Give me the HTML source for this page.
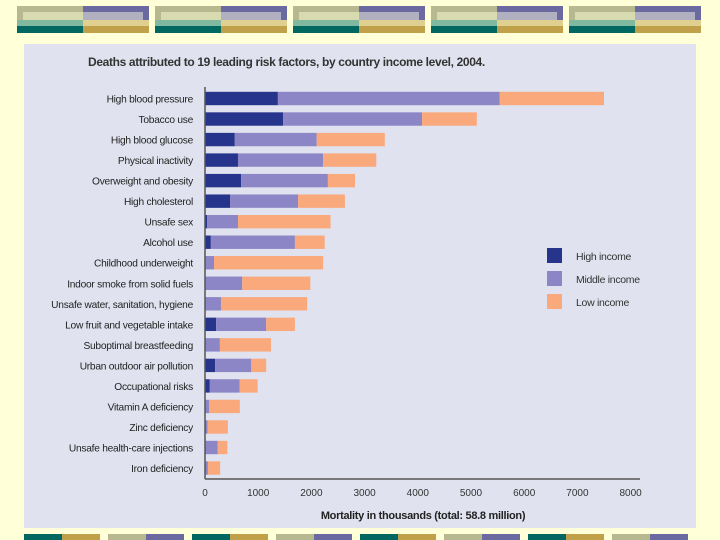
<!DOCTYPE html>
<html><head><meta charset="utf-8"><style>
body{margin:0;width:720px;height:540px;background:#ffffd8;overflow:hidden;font-family:"Liberation Sans",sans-serif}
svg{display:block}
</style></head><body>
<svg width="720" height="540">
<g id="deco"></g>
<rect x="24" y="44" width="672" height="484" fill="#e0e3ef"/>
<text x="88" y="66" font-size="12" font-weight="bold" letter-spacing="-0.35" fill="#333">Deaths attributed to 19 leading risk factors, by country income level, 2004.</text>
<g id="bars"></g>
<g id="labels"></g>
<g id="ticks"></g>
<line x1="205" y1="87" x2="205" y2="479" stroke="#555" stroke-width="1.5"/>
<line x1="205" y1="479" x2="640" y2="479" stroke="#555" stroke-width="1.5"/>
<text x="423" y="519" font-size="11" font-weight="bold" letter-spacing="-0.3" text-anchor="middle" fill="#222">Mortality in thousands (total: 58.8 million)</text>
<g>
<rect x="547" y="248" width="15" height="15" fill="#27348b"/>
<text x="576" y="260" font-size="10.5" letter-spacing="-0.3" fill="#333">High income</text>
<rect x="547" y="271" width="15" height="15" fill="#8c86c6"/>
<text x="576" y="283" font-size="10.5" letter-spacing="-0.3" fill="#333">Middle income</text>
<rect x="547" y="294" width="15" height="15" fill="#f9a97c"/>
<text x="576" y="306" font-size="10.5" letter-spacing="-0.3" fill="#333">Low income</text>
</g>
</svg>
<script>
const categories=["High blood pressure","Tobacco use","High blood glucose","Physical inactivity","Overweight and obesity","High cholesterol","Unsafe sex","Alcohol use","Childhood underweight","Indoor smoke from solid fuels","Unsafe water, sanitation, hygiene","Low fruit and vegetable intake","Suboptimal breastfeeding","Urban outdoor air pollution","Occupational risks","Vitamin A deficiency","Zinc deficiency","Unsafe health-care injections","Iron deficiency"];
const highIncome=[1370,1470,560,620,680,470,40,110,0,0,0,210,0,190,90,0,0,0,0];
const middleIncome=[4170,2610,1540,1600,1630,1280,580,1580,170,700,300,940,280,680,560,75,50,240,55];
const lowIncome=[1960,1030,1280,1000,510,880,1740,560,2050,1280,1620,540,960,280,340,580,380,180,230];
const tickValues=[0,1000,2000,3000,4000,5000,6000,7000,8000];
const NS="http://www.w3.org/2000/svg";
const x=v=>205+v*0.0532;
const rowY=i=>98.5+i*20.53;
const bars=document.getElementById('bars'),labels=document.getElementById('labels'),ticks=document.getElementById('ticks');
function mk(tag,attrs,parent){const e=document.createElementNS(NS,tag);for(const k in attrs)e.setAttribute(k,attrs[k]);parent.appendChild(e);return e;}
const series=[[highIncome,"#27348b","high"],[middleIncome,"#8c86c6","middle"],[lowIncome,"#f9a97c","low"]];
categories.forEach((c,i)=>{
  let acc=0;
  series.forEach(([arr,col,nm])=>{
    const v=arr[i];
    if(v>0){
      const r=mk('rect',{x:x(acc),y:rowY(i)-6.7,width:x(acc+v)-x(acc),height:13.4,fill:col},bars);
      
      
    }
    acc+=v;
  });
  const t=mk('text',{x:193,y:rowY(i)+4,'font-size':10.2,'letter-spacing':-0.25,'text-anchor':'end',fill:'#222'},labels);
  t.textContent=c;
  
  
});
tickValues.forEach(v=>{
  const t=mk('text',{x:x(v),y:496,'font-size':10,'text-anchor':'middle',fill:'#333'},ticks);
  t.textContent=v;
  
  
});
const deco=document.getElementById('deco');
function block(bx){
  const w=132,half=66;
  mk('rect',{x:bx,y:6,width:half,height:27,fill:'#b8b890'},deco);
  mk('rect',{x:bx,y:20,width:half,height:13,fill:'#80b8a0'},deco);
  mk('rect',{x:bx,y:26,width:half,height:7,fill:'#006860'},deco);
  mk('rect',{x:bx+half,y:6,width:half,height:27,fill:'#6a6aa0'},deco);
  mk('rect',{x:bx+half,y:20,width:half,height:13,fill:'#e0d090'},deco);
  mk('rect',{x:bx+half,y:26,width:half,height:7,fill:'#c0a048'},deco);
  mk('rect',{x:bx+6,y:12,width:w-12,height:8,fill:'#d8dab0'},deco);
  mk('rect',{x:bx+half,y:12,width:half-6,height:8,fill:'#b0b0c0'},deco);
}
for(let k=0;k<5;k++)block(17+k*138);
const bottomCols=["#006860","#c0a048","#b8b890","#6a6aa0"];
for(let k=0;k<8;k++){
  mk('rect',{x:24+k*84,y:534,width:38,height:6,fill:bottomCols[(k*2)%4]},deco);
  mk('rect',{x:62+k*84,y:534,width:38,height:6,fill:bottomCols[(k*2+1)%4]},deco);
}
</script>
</body></html>
